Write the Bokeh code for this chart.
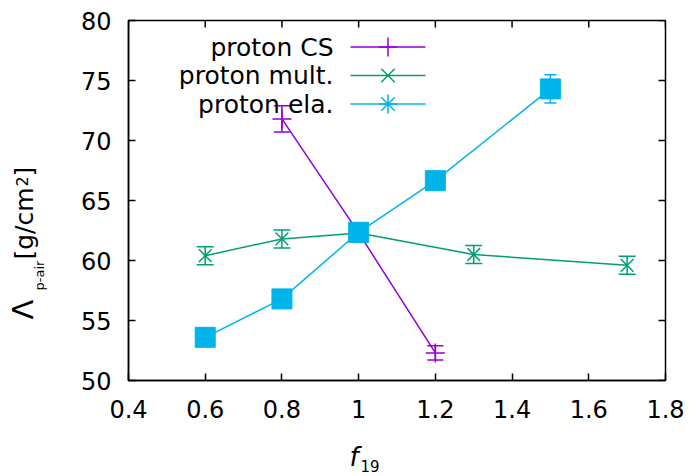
import numpy as np
from bokeh.plotting import figure
from bokeh.layouts import row, column
from bokeh.models import (ColumnDataSource, Whisker, TeeHead, Label, FixedTicker, Range1d)
from bokeh.embed import file_html
from bokeh.resources import INLINE

# ---- data ----
cs_x = [0.8, 1.0, 1.2]
cs_y = [71.8, 62.3, 52.3]
cs_err = [1.1, 0.3, 0.6]

mult_x = [0.6, 0.8, 1.0, 1.3, 1.7]
mult_y = [60.4, 61.8, 62.3, 60.5, 59.6]
mult_err = [0.75, 0.75, 0.75, 0.75, 0.75]

ela_x = [0.6, 0.8, 1.0, 1.2, 1.5]
ela_y = [53.6, 56.8, 62.35, 66.65, 74.3]
ela_err = [0.3, 0.3, 0.3, 0.6, 1.18]

x_ticks = [0.4, 0.6, 0.8, 1.0, 1.2, 1.4, 1.6, 1.8]
x_tick_labels = ["0.4", "0.6", "0.8", "1", "1.2", "1.4", "1.6", "1.8"]
y_ticks = [50, 55, 60, 65, 70, 75, 80]

series_names = ["proton CS", "proton mult.", "proton ela."]
c_cs, c_mult, c_ela = "#9400D3", "#009E73", "#00B4EA"

FONT = "DejaVu Sans"
FS = "24px"
W, H = 692, 476
YL_W = 48          # width of the strip holding the y-axis title
XL_H = 36          # height of the strip holding the x-axis title
MID = 0.346        # DejaVu: text-box middle above baseline, in em

# frame geometry (page pixels)
FL, FR, FT, FB = 128, 665, 20, 380
X0, X1, Y0, Y1 = 0.4, 1.8, 50, 80

def px(X):
    return X0 + (X - FL) * (X1 - X0) / (FR - FL)

def py(Y):
    return Y0 + (FB - Y) * (Y1 - Y0) / (FB - FT)

MAIN_H = H - XL_H
x_range = Range1d(X0, X1)
y_range = Range1d(Y0, Y1)

p = figure(title=None, frame_width=FR - FL, frame_height=FB - FT,
           x_range=x_range, y_range=y_range,
           output_backend="svg", toolbar_location=None,
           min_border_left=FL - YL_W, min_border_top=FT,
           min_border_right=W - FR, min_border_bottom=MAIN_H - FB)
p.background_fill_color = "white"
p.border_fill_color = "white"
p.outline_line_color = "black"
p.outline_line_width = 1.5
p.xgrid.visible = False
p.ygrid.visible = False

for ax in [p.xaxis[0], p.yaxis[0]]:
    ax.major_tick_in = 7
    ax.major_tick_out = 0
    ax.minor_tick_line_color = None
    ax.axis_line_width = 1.5
    ax.major_tick_line_width = 1.5
    ax.major_label_text_font = FONT
    ax.major_label_text_font_size = FS
    ax.major_label_text_color = "black"

p.xaxis[0].ticker = FixedTicker(ticks=x_ticks)
p.xaxis[0].major_label_overrides = {t: l for t, l in zip(x_ticks, x_tick_labels)}
p.xaxis[0].major_label_standoff = 19
p.yaxis[0].ticker = FixedTicker(ticks=y_ticks)
p.yaxis[0].major_label_standoff = 17

# mirror ticks on top and right, from the tick arrays
tick_dx = px(FR - 7) - X1
tick_dy = py(FT + 7) - Y1
p.segment(x0=x_ticks, y0=[Y1] * len(x_ticks), x1=x_ticks, y1=[Y1 + tick_dy] * len(x_ticks),
          line_color="black", line_width=1.5)
p.segment(x0=[X1] * len(y_ticks), y0=y_ticks, x1=[X1 + tick_dx] * len(y_ticks), y1=y_ticks,
          line_color="black", line_width=1.5)

def series(xs, ys, errs, color, marker, msize, cap):
    src = ColumnDataSource(dict(x=xs, y=ys, lo=[a - b for a, b in zip(ys, errs)],
                                hi=[a + b for a, b in zip(ys, errs)]))
    p.line("x", "y", source=src, line_color=color, line_width=1.5)
    w = Whisker(base="x", lower="lo", upper="hi", source=src, line_color=color, line_width=1.5,
                upper_head=TeeHead(size=cap, line_color=color, line_width=1.5),
                lower_head=TeeHead(size=cap, line_color=color, line_width=1.5))
    p.add_layout(w)
    p.scatter("x", "y", source=src, marker=marker, size=msize, line_color=color,
              fill_color=color, line_width=1.5)
    return src

series(cs_x, cs_y, cs_err, c_cs, "cross", 19, 16)
series(mult_x, mult_y, mult_err, c_mult, "x", 18, 17)
src_ela = series(ela_x, ela_y, ela_err, c_ela, "asterisk", 18, 12)
p.scatter("x", "y", source=src_ela, marker="square", size=20, line_color=c_ela,
          fill_color=c_ela)

# ---- legend (text left of key) ----
leg_rows = [46.5, 75, 103.5]
for name, color, marker, Yr in zip(series_names, [c_cs, c_mult, c_ela],
                                   ["cross", "x", "asterisk"], leg_rows):
    p.add_layout(Label(x=px(333), y=py(Yr), text=name, text_align="right",
                       text_baseline="middle", text_font=FONT, text_font_size="25px",
                       text_color="black"))
    p.line([px(350), px(425)], [py(Yr), py(Yr)], line_color=color, line_width=1.5)
    p.scatter([px(387.5)], [py(Yr)], marker=marker, size=19, line_color=color,
              line_width=1.5)

# ---- y-axis title strip (same vertical geometry as the plot) ----
yl = figure(title=None, frame_width=YL_W, frame_height=FB - FT,
            x_range=Range1d(0, YL_W), y_range=y_range,
            output_backend="svg", toolbar_location=None,
            x_axis_location=None, y_axis_location=None,
            min_border_left=0, min_border_right=0,
            min_border_top=FT, min_border_bottom=MAIN_H - FB)
yl.outline_line_color = None
yl.border_fill_color = "white"
yl.grid.visible = False

ang = np.pi / 2
def ylab(text, base_x, start_y, size):
    yl.add_layout(Label(x=base_x - MID * size, y=py(start_y), text=text, angle=ang,
                        text_align="left", text_baseline="middle", text_font=FONT,
                        text_font_size=f"{size}px", text_color="black"))

ylab("Λ", 33, 319, 29)
ylab("p-air", 43, 290, 13)
ylab("[g/cm", 33, 259, 25)
ylab("2", 27, 186, 16)
ylab("]", 33, 176, 25)

# ---- x-axis title strip (same horizontal geometry as the plot) ----
xl = figure(title=None, frame_width=FR - FL, frame_height=XL_H,
            x_range=x_range, y_range=Range1d(H, MAIN_H),
            output_backend="svg", toolbar_location=None,
            x_axis_location=None, y_axis_location=None,
            min_border_left=FL - YL_W, min_border_right=W - FR,
            min_border_top=0, min_border_bottom=0)
xl.outline_line_color = None
xl.border_fill_color = "white"
xl.grid.visible = False

def xlab(text, left_x, base_y, size, style="normal"):
    xl.add_layout(Label(x=px(left_x), y=base_y - MID * size, text=text, text_align="left",
                        text_baseline="middle", text_font=FONT, text_font_size=f"{size}px",
                        text_font_style=style, text_color="black"))

xlab("f", 349, 465, 26, "italic")
xlab("19", 360, 471, 15)

layout = row(yl, column(p, xl, spacing=0), spacing=0)
open("out.html", "w").write(file_html(layout, INLINE))
